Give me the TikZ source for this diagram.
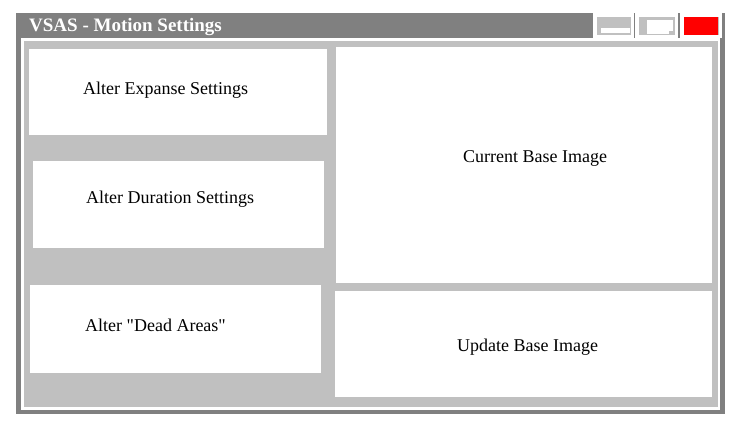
\documentclass[tikz,border=0pt]{standalone}
\usepackage{fontspec}
\setmainfont{Liberation Serif}[Ligatures=TeXOff]
\usepackage{xcolor}
\definecolor{frameshade}{RGB}{128,128,128}
\definecolor{faceshade}{RGB}{192,192,192}
\definecolor{closered}{RGB}{255,0,0}

\begin{document}
\begin{tikzpicture}[x=1pt, y=-1pt,
        panel/.style={fill=white, anchor=north west, inner sep=0pt, outer sep=0pt},
        paneltext/.style={anchor=base west, inner sep=0pt, font=\rmfamily\fontsize{18}{20}\selectfont}]
        \useasboundingbox (0,0) rectangle (736,427);

        % Window frame
        \fill[frameshade] (16,13) rectangle (725,414);
        \fill[white] (21,38) rectangle (720,410);
        \fill[faceshade] (24,41) rectangle (718,407);

        % Title
        \node[anchor=base west, inner sep=0pt, text=white, font=\rmfamily\bfseries\fontsize{19}{21}\selectfont] (title) at (29,32) {VSAS - Motion Settings};

        % Title bar buttons
        \foreach \name/\xa/\xb in {minbtn/593/634, maxbtn/635/678, closebtn/680/722} {
            \fill[white] (\xa,13) rectangle (\xb,38);
            \fill[faceshade] ({\xa+4},17) rectangle ({\xb-3},35);
        }
        \fill[white] (601,28) rectangle (630,33);
        \fill[white] (647,20) rectangle (673,34);
        \fill[faceshade] (669,31) rectangle (673,34);
        \fill[closered] (684,17) rectangle (718,35);

        % Panels
        \foreach \name/\x/\y/\w/\h in {expanse/29/49/298/86, duration/33/161/291/87, dead/30/285/291/88, current/336/47/376/236, update/335/291/377/106} {
            \node[panel, minimum width=\w pt, minimum height=\h pt] (\name) at (\x,\y) {};
        }

        % Panel labels
        \foreach \name/\x/\y/\label in {expanse/83/95/Alter Expanse Settings, duration/86/204/Alter Duration Settings, dead/85/332/Alter "Dead Areas", current/463/163/Current Base Image, update/457/352/Update Base Image} {
            \node[paneltext] (\name-label) at (\x,\y) {\label};
        }
    \end{tikzpicture}
\end{document}
